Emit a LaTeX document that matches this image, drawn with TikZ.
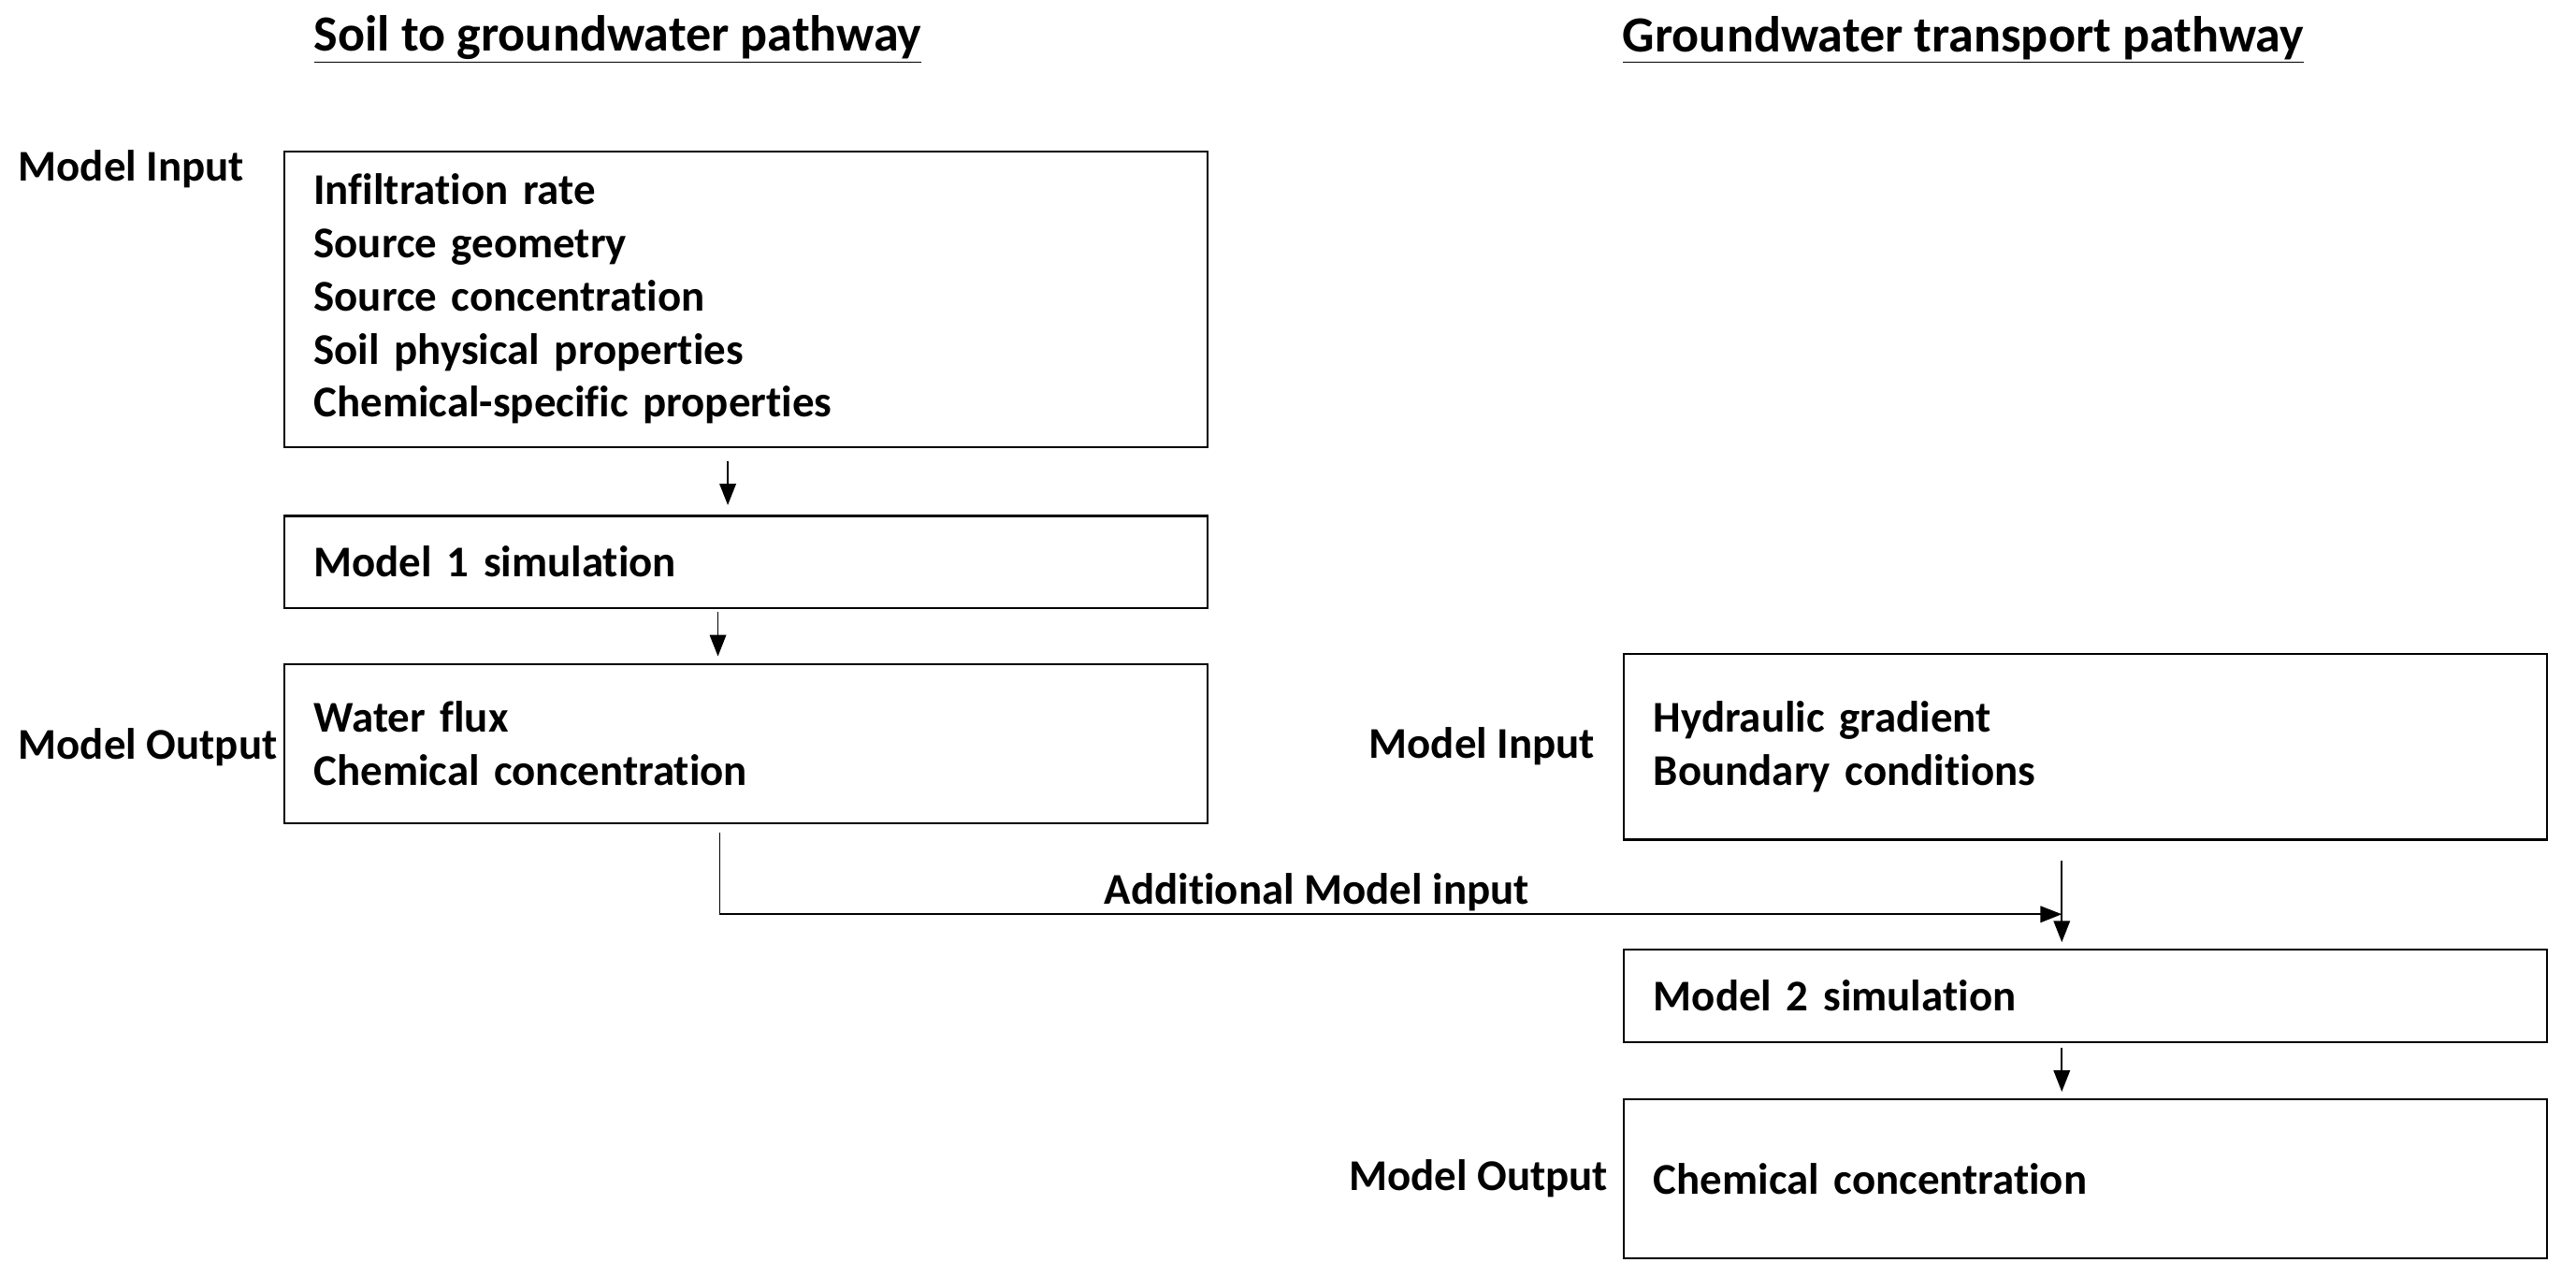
\documentclass[tikz,border=0pt]{standalone}
\usepackage{fontspec}
\setmainfont{Carlito}[Ligatures=NoCommon]
\usetikzlibrary{arrows.meta,calc}

\tikzset{
  modelbox/.style={draw, line width=1.2pt, rectangle, minimum width=562pt, text width=526pt, inner xsep=18pt, inner ysep=0pt, align=left, font=\fontsize{26.7}{32.3}\selectfont\bfseries},
  sidelabel/.style={inner sep=0pt, font=\fontsize{26.7}{30}\selectfont\bfseries},
  headlabel/.style={inner sep=0pt, font=\fontsize{30.8}{34}\selectfont\bfseries},
  flow/.style={line width=0.9pt, -{Triangle[length=13pt,width=10pt]}}
}

\begin{document}
\begin{tikzpicture}[x=1pt,y=1pt,yscale=-1,xscale=1]
\useasboundingbox (0,0) rectangle (1568,777);

% Headings
\node[headlabel] (headsoil) at (376,24) {\underline{Soil to groundwater pathway}};
\node[headlabel] (headgw) at (1195,24) {\underline{Groundwater transport pathway}};

% Soil to groundwater boxes
\node[modelbox, minimum height=180pt] (in1) at (454,182) {Infiltration rate\\Source geometry\\Source concentration\\Soil physical properties\\Chemical-specific properties};
\node[modelbox, minimum height=56pt] (sim1) at (454,342) {Model 1 simulation};
\node[modelbox, minimum height=97pt] (out1) at (454,452.5) {Water flux\\Chemical concentration};

% Groundwater transport boxes
\node[modelbox, minimum height=113pt] (in2) at (1269.5,454.5) {Hydraulic gradient\\Boundary conditions};
\node[modelbox, minimum height=56pt] (sim2) at (1269.5,606) {Model 2 simulation};
\node[modelbox, minimum height=97pt] (out2) at (1269.5,717.5) {Chemical concentration};

% Side labels
\node[sidelabel, anchor=west] (lblin1) at (11,103) {Model Input};
\node[sidelabel, anchor=west] (lblout1) at (11,455) {Model Output};
\node[sidelabel, anchor=east] (lblin2) at (971,454) {Model Input};
\node[sidelabel, anchor=east] (lblout2) at (979,717) {Model Output};
\node[sidelabel] (lbladd) at (801.5,543) {Additional Model input};

% Connections
\draw[flow] ($(in1.south)+(-11,8)$) -- ($(sim1.north)+(-11,-6)$);
\draw[flow] ($(sim1.south)+(-17,2)$) -- ($(out1.north)+(-17,-4)$);
\draw[flow] ($(out1.south)+(-16,5)$) |- ($(sim2.north)+(-14.5,-21)$);
\draw[flow] ($(in2.south)+(-14.5,12)$) -- ($(sim2.north)+(-14.5,-4)$);
\draw[flow] ($(sim2.south)+(-14.5,3)$) -- ($(out2.north)+(-14.5,-4)$);

\end{tikzpicture}
\end{document}
